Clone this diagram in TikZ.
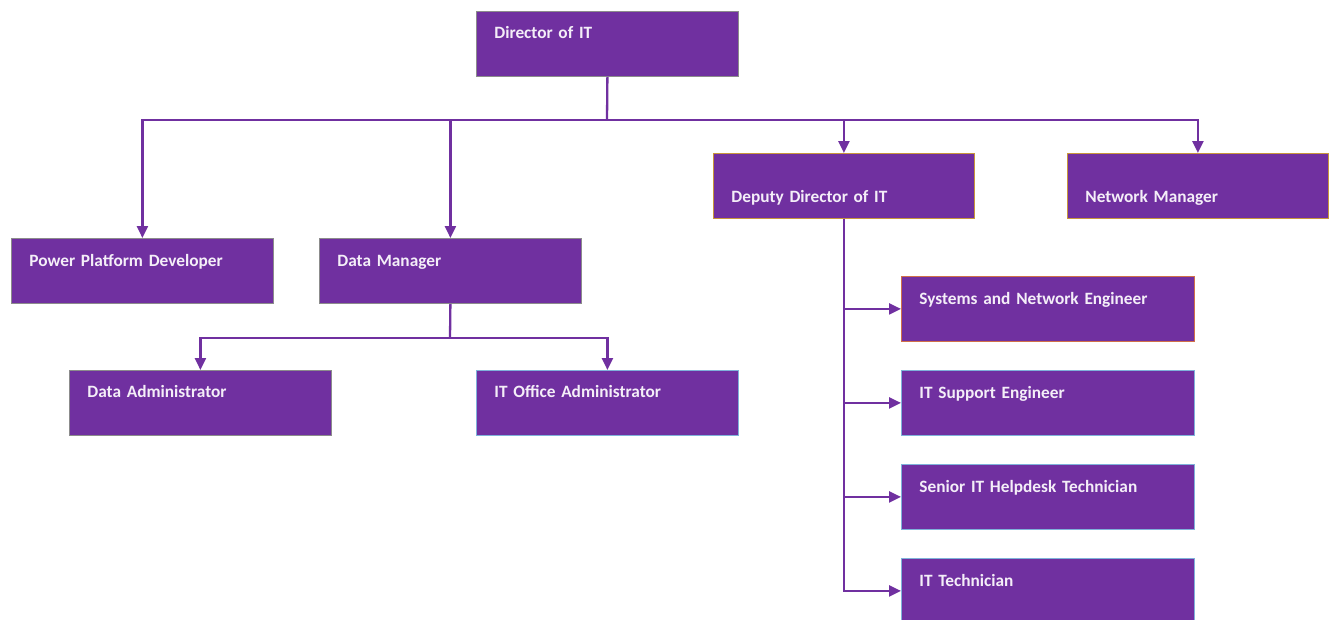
\documentclass[tikz,border=0pt]{standalone}
\usepackage{fontspec}
\setmainfont{Carlito}[WordSpace={0.85}]
\usetikzlibrary{arrows.meta}
\definecolor{ppl}{HTML}{7030A0}
\definecolor{txt}{HTML}{F4EEF8}
\definecolor{bgrey}{HTML}{8C8C8C}
\definecolor{borange}{HTML}{C8963C}
\definecolor{bred}{HTML}{D0704A}
\definecolor{bblue}{HTML}{7FB2DA}
\tikzset{
  box/.style={rectangle, fill=ppl, draw=bgrey, line width=0.8pt, anchor=north west,
    minimum height=65pt, inner xsep=18pt, inner ysep=0pt, align=left,
    text=txt, font=\fontsize{17.3}{20}\selectfont\bfseries,
    text height=27pt, text depth=38pt},
  wbox/.style={box, text width=226pt},
  sbox/.style={box, text width=257pt},
  lowtext/.style={text height=49pt, text depth=16pt},
  link/.style={draw=ppl, line width=2.3pt},
  arr/.style={link, -{Triangle[length=12pt,width=11pt]}},
}
\begin{document}
\begin{tikzpicture}[x=1pt,y=-1pt]
\useasboundingbox (0,0) rectangle (1329,619);
\node[wbox] (dir) at (476,11) {Director of IT};
\node[wbox, lowtext, text width=225pt, draw=borange] (dep) at (713,153) {Deputy Director of IT};
\node[wbox, lowtext, text width=225pt, draw=borange] (net) at (1067,153) {Network Manager};
\node[wbox, text height=28pt, text depth=37pt] (ppd) at (11,238) {Power Platform Developer};
\node[wbox, text height=28pt, text depth=37pt] (dm) at (319,238) {Data Manager};
\node[wbox] (da) at (69,370) {Data Administrator};
\node[wbox, draw=bblue] (ioa) at (476,370) {IT Office Administrator};
\node[sbox, draw=bred, text height=28pt, text depth=37pt] (sne) at (901,276) {Systems and Network Engineer};
\node[sbox, draw=bblue, text height=28pt, text depth=37pt] (ise) at (901,370) {IT Support Engineer};
\node[sbox, draw=bblue, text height=28pt, text depth=37pt] (shd) at (901,464) {Senior IT Helpdesk Technician};
\node[sbox, draw=bblue, text height=28pt, text depth=37pt] (itt) at (901,558) {IT Technician};
\coordinate (bus) at (607,120);
\draw[link] (dir.south) -- (bus);
\draw[arr] (bus) -| (ppd.north);
\draw[arr] (bus) -| (dm.north);
\draw[arr] (bus) -| (dep.north);
\draw[arr] (bus) -| (net.north);
\coordinate (dbus) at (450,338);
\draw[link] (dm.south) -- (dbus);
\draw[arr] (dbus) -| (da.north);
\draw[arr] (dbus) -| (ioa.north);
\draw[arr] (dep.south) |- (sne.west);
\draw[arr] (dep.south) |- (ise.west);
\draw[arr] (dep.south) |- (shd.west);
\draw[arr] (dep.south) |- (itt.west);
\end{tikzpicture}
\end{document}
